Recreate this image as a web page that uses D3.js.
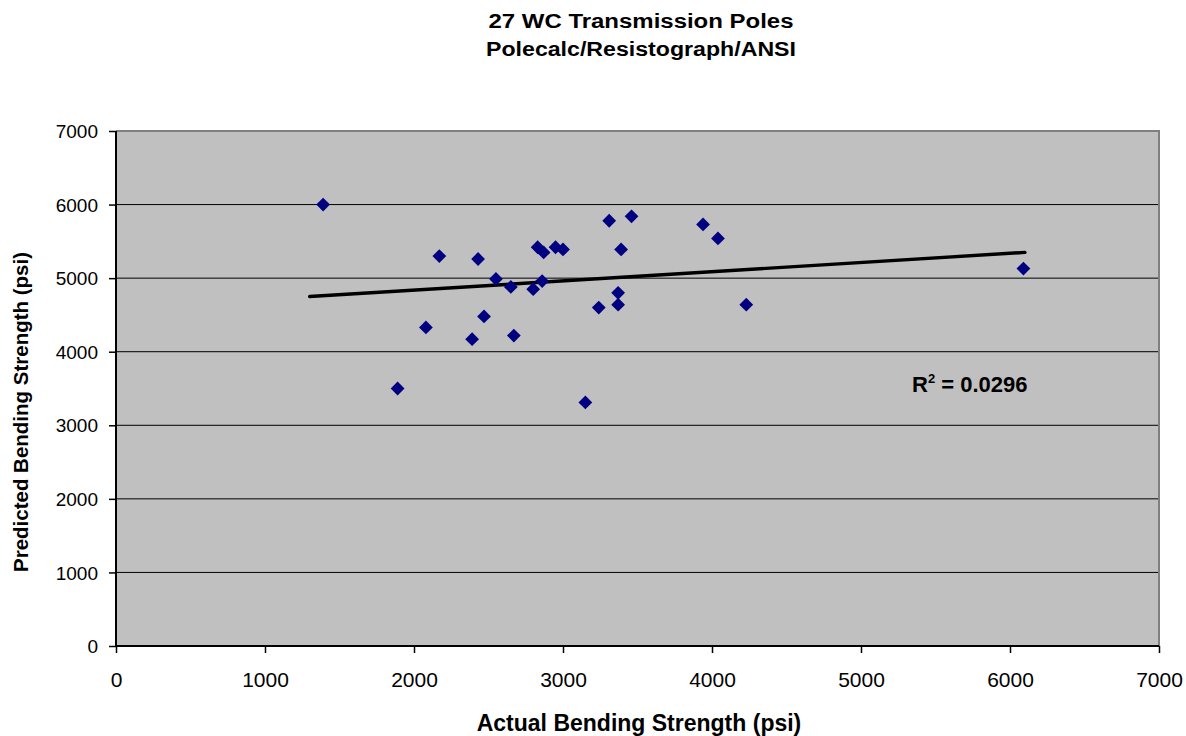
<!DOCTYPE html>
<html><head><meta charset="utf-8">
<script src="https://cdn.jsdelivr.net/npm/d3@7"></script>
<style>body{margin:0;background:#fff}svg{display:block;font-family:"Liberation Sans",Arial,sans-serif}</style>
</head><body><svg id="c" width="1186" height="736"></svg>
<script>
const titleLines = ["27 WC Transmission Poles", "Polecalc/Resistograph/ANSI"];
const xLabel = "Actual Bending Strength (psi)";
const yLabel = "Predicted Bending Strength (psi)";
const xTicks = [0,1000,2000,3000,4000,5000,6000,7000];
const yTicks = [0,1000,2000,3000,4000,5000,6000,7000];
const actual    = [1390,1890,2080,2170,2390,2430,2470,2550,2650,2670,2800,2830,2860,2870,2950,3000,3150,3240,3310,3370,3370,3390,3460,3940,4040,4230,6090];
const predicted = [6000,3500,4330,5300,4170,5260,4480,4990,4880,4220,4850,5420,4960,5350,5420,5390,3310,4600,5780,4800,4640,5390,5840,5730,5540,4640,5130];
const trendX = [1300, 6100];
const trendY = [4750, 5350];
const rSquared = "0.0296";

const svg = d3.select("#c");
const L = 116, R = 1159, T = 131, B = 646;
const x = d3.scaleLinear().domain([0,7000]).range([L,R]);
const y = d3.scaleLinear().domain([0,7000]).range([B,T]);

svg.append("rect").attr("x",L).attr("y",T).attr("width",R-L).attr("height",B-T).attr("fill","#c0c0c0");
svg.append("g").selectAll("line").data(yTicks.filter(d=>d>0 && d<7000)).join("line")
  .attr("x1",L).attr("x2",R).attr("y1",d=>y(d)).attr("y2",d=>y(d)).attr("stroke","#000").attr("stroke-width",1);
svg.append("path").attr("d",`M${L},${T}H${R}V${B}`).attr("fill","none").attr("stroke","#808080").attr("stroke-width",2);

const xa = svg.append("g").attr("transform",`translate(0,${B})`)
  .call(d3.axisBottom(x).tickValues(xTicks).tickSize(7).tickFormat(d3.format("d")));
const ya = svg.append("g").attr("transform",`translate(${L},0)`)
  .call(d3.axisLeft(y).tickValues(yTicks).tickSize(7).tickFormat(d3.format("d")));
[xa,ya].forEach(a=>{
  a.select(".domain").attr("stroke","#000").attr("stroke-width",2);
  a.selectAll(".tick line").attr("stroke","#000").attr("stroke-width",1.5);
  a.selectAll("text").attr("fill","#000").attr("font-family","Liberation Sans, Arial, sans-serif");
});
xa.selectAll("text").attr("font-size",21).attr("y",41).attr("dy",0);
ya.selectAll("text").attr("font-size",19).attr("x",-18).attr("dy","0.35em");
xa.select(".domain").attr("d",`M${L},0H${R}`);
ya.select(".domain").attr("d",`M0,${B}V${T}`);

svg.append("line").attr("x1",x(trendX[0])).attr("y1",y(trendY[0])).attr("x2",x(trendX[1])).attr("y2",y(trendY[1]))
  .attr("stroke","#000").attr("stroke-width",3.4).attr("stroke-linecap","round");

const sym = d3.symbol().type(d3.symbolSquare).size(95);
svg.append("g").selectAll("path").data(actual.map((a,i)=>[a,predicted[i]])).join("path")
  .attr("d",sym).attr("transform",d=>`translate(${x(d[0])},${y(d[1])}) rotate(45)`).attr("fill","#000080");

const rt = svg.append("text").attr("x",912).attr("y",392).attr("font-size",22).attr("font-weight","bold").attr("fill","#000");
rt.append("tspan").text("R");
rt.append("tspan").attr("font-size",13).attr("dy",-9).text("2");
rt.append("tspan").attr("dy",9).text(" = " + rSquared);

const tW = [305, 310];
svg.append("g").selectAll("text").data(titleLines).join("text")
  .attr("x",641).attr("y",(d,i)=>28+i*28).attr("text-anchor","middle").attr("font-size",20).attr("font-weight","bold")
  .attr("textLength",(d,i)=>tW[i]).attr("lengthAdjust","spacingAndGlyphs").text(d=>d);
svg.append("text").attr("x",639).attr("y",731).attr("text-anchor","middle").attr("font-size",23).attr("font-weight","bold").text(xLabel);
svg.append("text").attr("transform","translate(28,412) rotate(-90)").attr("text-anchor","middle").attr("font-size",20.5).attr("font-weight","bold").text(yLabel);
</script></body></html>
